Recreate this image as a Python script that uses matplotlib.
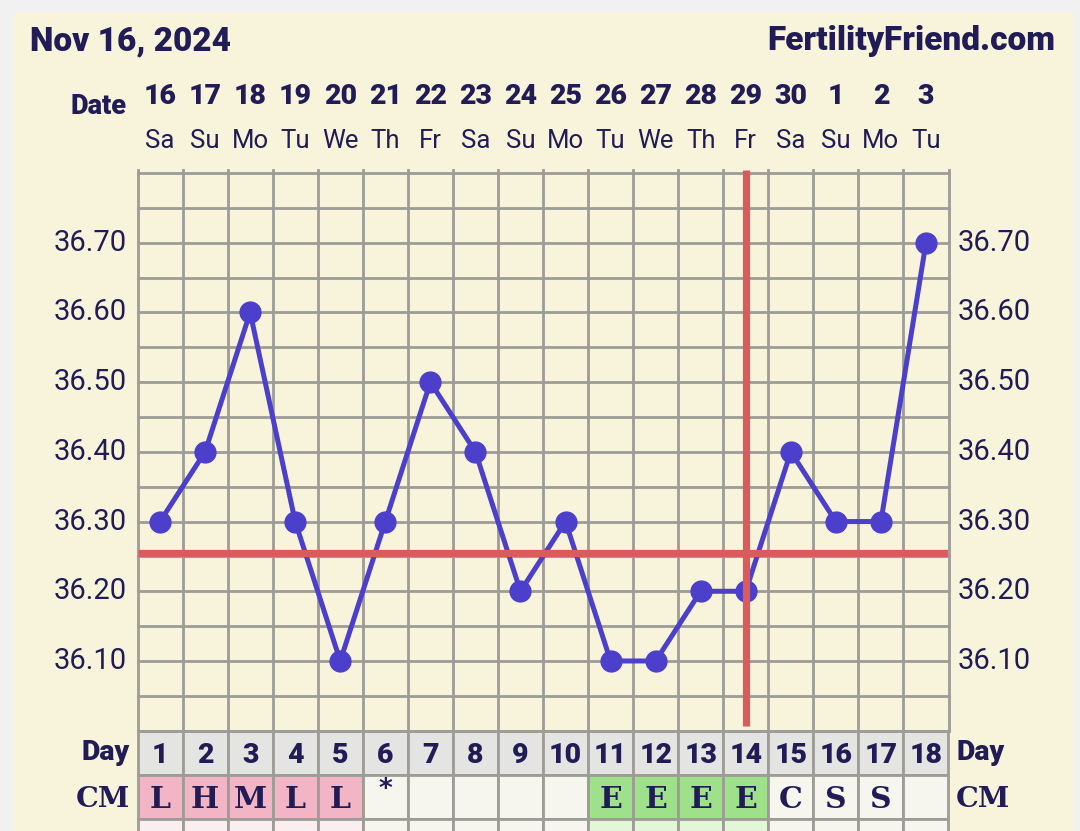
import matplotlib
matplotlib.use("Agg")
import matplotlib.pyplot as plt
import matplotlib.transforms as mtransforms
from matplotlib.patches import Rectangle
import numpy as np

# chart data
dates = ["16", "17", "18", "19", "20", "21", "22", "23", "24", "25",
         "26", "27", "28", "29", "30", "1", "2", "3"]
weekdays = ["Sa", "Su", "Mo", "Tu", "We", "Th", "Fr", "Sa", "Su", "Mo",
            "Tu", "We", "Th", "Fr", "Sa", "Su", "Mo", "Tu"]
cycle_days = list(range(1, 19))
temps = [36.3, 36.4, 36.6, 36.3, 36.1, 36.3, 36.5, 36.4, 36.2, 36.3,
         36.1, 36.1, 36.2, 36.2, 36.4, 36.3, 36.3, 36.7]
cm_codes = ["L", "H", "M", "L", "L", "*", "", "", "", "",
            "E", "E", "E", "E", "C", "S", "S", ""]
cm_kind = ["p", "p", "p", "p", "p", "w", "w", "w", "w", "w",
           "g", "g", "g", "g", "w", "w", "w", "w"]
temp_ticks = [36.10, 36.20, 36.30, 36.40, 36.50, 36.60, 36.70]
coverline = 36.255
ovulation_day = 14
title_left = "Nov 16, 2024"
title_right = "FertilityFriend.com"

# colours
outer = "#f1f1f1"
cream = "#f8f4dc"
navy = "#211c55"
grid_col = "#9d9c96"
blue = "#4b3fcc"
red = "#d95b5c"
row_gray = "#e4e4e2"
cell_white = "#f6f6ef"
cm_fill = {"p": "#f2b5c6", "g": "#9fe08b", "w": cell_white}
temp_fill = {"p": "#faeef0", "g": "#e2f6d8", "w": cell_white}

W, H = 1080, 831
fig = plt.figure(figsize=(W / 100, H / 100), dpi=100)
fig.patch.set_facecolor(outer)

# pixel axes for the whole picture (y grows downward)
bg = fig.add_axes([0, 0, 1, 1])
bg.set_xlim(0, W)
bg.set_ylim(H, 0)
bg.axis("off")
bg.add_patch(Rectangle((13, 13), 1060, 830, color=cream, zorder=0))

# temperature grid
top_px, bot_px = 169.5, 730.7
ax = fig.add_axes([137.5 / W, (H - bot_px) / H, 811 / W, (bot_px - top_px) / H])
ax.set_xlim(0.5, 18.5)
ax.set_ylim(36.0, 36.805)
ax.set_facecolor("none")
for s in ax.spines.values():
    s.set_visible(False)
ax.set_xticks([])
ax.set_yticks([])

for x in np.arange(0.5, 19, 1.0):
    ax.axvline(x, color=grid_col, lw=2.0, clip_on=False, zorder=1)
for y in np.arange(36.0, 36.801, 0.05):
    ax.plot([0.5, 18.5], [y, y], color=grid_col, lw=2.0, clip_on=False, zorder=1)

ax.plot(cycle_days, temps, color=blue, lw=3.6, marker="o", ms=15,
        zorder=5, clip_on=False)
ax.plot([0.5, 18.5], [coverline, coverline], color=red, lw=5.2, zorder=6,
        solid_capstyle="butt")
ax.plot([ovulation_day, ovulation_day], [36.007, 36.805], color=red, lw=5.2,
        zorder=6, solid_capstyle="butt", clip_on=False)

x_data_y_px = mtransforms.blended_transform_factory(ax.transData, bg.transData)
x_px_y_data = mtransforms.blended_transform_factory(bg.transData, ax.transData)

# y tick labels on both sides
for t in temp_ticks:
    bg.text(127, t, f"{t:.2f}", transform=x_px_y_data, ha="right", va="center",
            fontsize=21, family="Roboto", color=navy)
    bg.text(958, t, f"{t:.2f}", transform=x_px_y_data, ha="left", va="center",
            fontsize=21, family="Roboto", color=navy)

# header
bg.text(30, 50, title_left, ha="left", va="baseline", fontsize=24,
        family="Roboto", weight="black", color=navy)
bg.text(1055, 50, title_right, ha="right", va="baseline", fontsize=24,
        family="Roboto", weight="black", color=navy)
bg.text(127, 114, "Date", ha="right", va="baseline", fontsize=19.5,
        family="Roboto", weight="black", color=navy)
for d, dt, wd in zip(cycle_days, dates, weekdays):
    bg.text(d, 104, dt, transform=x_data_y_px, ha="center", va="baseline",
            fontsize=20.5, family="Roboto", weight="black", color=navy)
    bg.text(d, 148, wd, transform=x_data_y_px, ha="center", va="baseline",
            fontsize=18.5, family="Roboto", color=navy)

# table rows below the grid
rows = [(bot_px, 774.5), (774.5, 818.5), (818.5, 862)]
for d, code, kind in zip(cycle_days, cm_codes, cm_kind):
    fills = [row_gray, cm_fill[kind], temp_fill[kind]]
    for (y0, y1), fc in zip(rows, fills):
        bg.add_patch(Rectangle((d - 0.5, y0), 1, y1 - y0, transform=x_data_y_px,
                               facecolor=fc, edgecolor=grid_col, lw=2.0, zorder=2))
    bg.text(d, 763, str(d), transform=x_data_y_px, ha="center", va="baseline",
            fontsize=20.5, family="Roboto", weight="black", color=navy, zorder=3)
    if code == "*":
        bg.text(d, 797, code, transform=x_data_y_px, ha="center", va="baseline",
                fontsize=19, family="DejaVu Sans", weight="bold", color=navy, zorder=3)
    elif code:
        bg.text(d, 808, code, transform=x_data_y_px, ha="center", va="baseline",
                fontsize=21.5, family="DejaVu Serif", weight="bold", color=navy, zorder=3)

for lab, yb, fam in [("Day", 760, "Roboto"), ("CM", 807, "DejaVu Serif"),
                     ("Temp", 853, "Roboto")]:
    col = "#111111" if lab == "Temp" else navy
    bg.text(130, yb, lab, ha="right", va="baseline", fontsize=20.5, family=fam,
            weight="black" if fam == "Roboto" else "bold", color=col)
    bg.text(956, yb, lab, ha="left", va="baseline", fontsize=20.5, family=fam,
            weight="black" if fam == "Roboto" else "bold", color=col)

fig.savefig("out.png", dpi=100, facecolor=fig.get_facecolor())
